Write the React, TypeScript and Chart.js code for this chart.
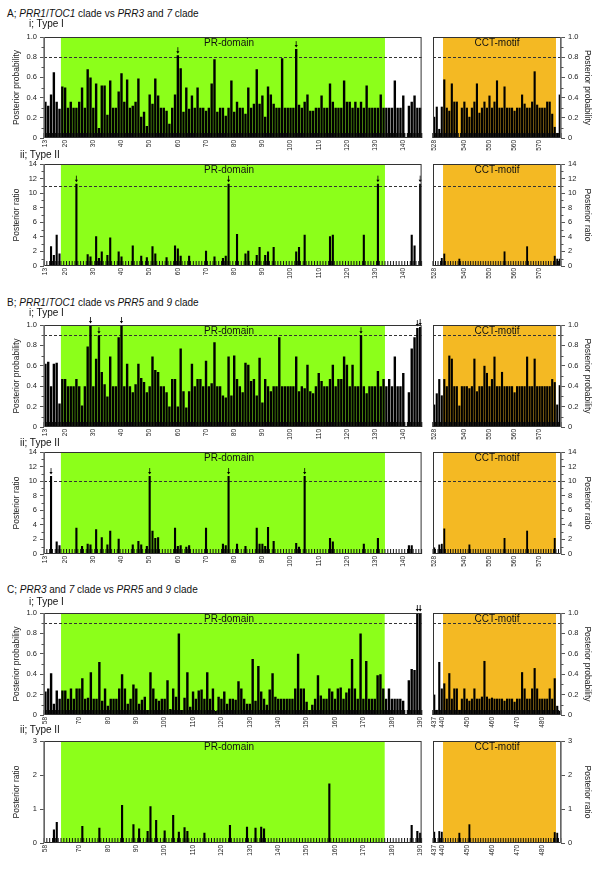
import React, { useEffect, useRef } from 'react';
import { Chart, registerables } from 'chart.js';
Chart.register(...registerables);

const FONT = "'Liberation Sans', Arial, Helvetica, sans-serif";
const GREEN = '#8cff1a';
const ORANGE = '#f4b923';

const range = (a: number, b: number) => { const r: number[] = []; for (let i = a; i <= b; i++) r.push(i); return r; };

// ---------- A: PRR1/TOC1 clade vs PRR3 and 7 clade ----------
const A_RES_PR = range(13, 146);
const A_RES_CCT = range(528, 578);
const A_TICKS_PR = [13, 20, 30, 40, 50, 60, 70, 80, 90, 100, 110, 120, 130, 140];
const A_TICKS_CCT = [528, 540, 550, 560, 570];
const A_PR_DOMAIN: [number, number] = [19, 133];
const A_CCT_MOTIF: [number, number] = [532, 576];
const A_T1_THRESHOLD = 0.8;
const A_T2_THRESHOLD = 11;
const A_TYPE1_PR = [
  0.36,0.32,0.43,0.65,0.36,0.29,0.51,0.50,0.30,0.36,
  0.30,0.30,0.36,0.50,0.30,0.68,0.60,0.30,0.54,0.10,
  0.52,0.52,0.23,0.57,0.30,0.30,0.46,0.64,0.36,0.58,
  0.30,0.32,0.36,0.59,0.21,0.26,0.12,0.43,0.34,0.59,
  0.42,0.30,0.30,0.27,0.14,0.30,0.43,0.82,0.69,0.26,
  0.50,0.29,0.42,0.30,0.50,0.30,0.30,0.27,0.30,0.54,
  0.78,0.26,0.30,0.30,0.22,0.30,0.57,0.26,0.36,0.30,
  0.30,0.24,0.50,0.30,0.34,0.68,0.34,0.42,0.21,0.51,
  0.43,0.34,0.30,0.30,0.79,0.30,0.30,0.30,0.30,0.88,
  0.33,0.30,0.36,0.43,0.27,0.27,0.30,0.30,0.42,0.30,
  0.30,0.54,0.36,0.30,0.30,0.30,0.57,0.36,0.36,0.30,
  0.36,0.30,0.36,0.30,0.52,0.30,0.30,0.30,0.30,0.43,
  0.30,0.30,0.30,0.30,0.57,0.30,0.30,0.42,0.00,0.32,
  0.36,0.42,0.30,0.30];
const A_TYPE1_CCT = [
  0.21,0.31,0.09,0.31,0.58,0.30,0.27,0.54,0.36,0.36,
  0.00,0.30,0.36,0.30,0.21,0.30,0.36,0.54,0.25,0.30,
  0.36,0.30,0.42,0.30,0.36,0.57,0.30,0.30,0.51,0.30,
  0.30,0.30,0.27,0.30,0.30,0.43,0.34,0.30,0.30,0.36,
  0.66,0.33,0.30,0.30,0.30,0.36,0.36,0.24,0.11,0.05,
  0.43];
const A_TYPE2_PR = [
  0,0,2.7,1.5,4.3,1.7,0,0,0,0,
  0,11.3,0,0,0,1.6,1.3,0,4.1,1.1,
  2.0,0,1.5,3.9,0,0,2.0,1.3,0,0,
  0,2.8,0,0,1.4,0,1.2,0,2.7,1.7,
  0,0,0,1.2,0,0,2.8,2.4,1.4,0,
  0,1.4,0,0,0,0,0,2.1,0,0,
  1.3,0,0,1.1,1.4,11.3,0,0,4.4,0,
  0,1.7,2.1,0,0,1.5,2.6,0,1.5,2.0,
  0,2.6,0,0,0,0,0,0,0,2.0,
  2.6,0,4.3,0,0,0,0,0,0,0,
  0,4.1,4.3,0,0,0,0,0,0,0,
  0,0,0,4.3,0,0,0,0,11.3,0,
  0,0,0,0,0,0,0,0,0,0,
  4.3,2.8,0,11.3];
const A_TYPE2_CCT = [
  0,0,0,1.1,1.7,0,0,0,0,0,
  1.0,0,0,0,0,0,0,0,0,0,
  0,0,0,0,0,0,0,0,2.0,0,
  0,0,0,0,0,0,0,2.7,0,0,
  0,0,0,0,0,0,0,0,1.4,1.0,
  1.0];

// ---------- B: PRR1/TOC1 clade vs PRR5 and 9 clade ----------
const B_RES_PR = range(13, 146);
const B_RES_CCT = range(528, 578);
const B_TICKS_PR = [13, 20, 30, 40, 50, 60, 70, 80, 90, 100, 110, 120, 130, 140];
const B_TICKS_CCT = [528, 540, 550, 560, 570];
const B_PR_DOMAIN: [number, number] = [19, 133];
const B_CCT_MOTIF: [number, number] = [532, 576];
const B_T1_THRESHOLD = 0.9;
const B_T2_THRESHOLD = 10;
const B_TYPE1_PR = [
  0.62,0.64,0.40,0.62,0.63,0.23,0.47,0.47,0.40,0.40,
  0.40,0.47,0.40,0.21,0.40,0.79,1.00,0.40,0.67,0.90,
  0.54,0.42,0.30,0.69,0.40,0.40,0.88,1.00,0.40,0.62,
  0.40,0.34,0.42,0.62,0.48,0.44,0.34,0.40,0.69,0.56,
  0.54,0.40,0.40,0.34,0.20,0.47,0.47,0.20,0.77,0.35,
  0.19,0.35,0.62,0.40,0.47,0.47,0.40,0.65,0.40,0.43,
  0.83,0.40,0.40,0.31,0.29,0.69,0.31,0.70,0.47,0.40,
  0.34,0.63,0.61,0.45,0.47,0.31,0.68,0.24,0.47,0.40,
  0.35,0.40,0.40,0.88,0.40,0.40,0.40,0.40,0.40,0.69,
  0.35,0.40,0.38,0.61,0.35,0.33,0.40,0.53,0.45,0.40,
  0.40,0.47,0.61,0.40,0.47,0.47,0.69,0.61,0.40,0.61,
  0.40,0.40,0.90,0.40,0.33,0.40,0.40,0.40,0.55,0.40,
  0.47,0.40,0.47,0.40,0.69,0.40,0.40,0.53,0.00,0.34,
  0.77,0.88,0.97,0.98];
const B_TYPE1_CCT = [
  0.22,0.33,0.47,0.31,0.47,0.40,0.70,0.67,0.40,0.40,
  0.21,0.40,0.40,0.40,0.38,0.40,0.67,0.35,0.40,0.40,
  0.60,0.53,0.40,0.47,0.69,0.40,0.40,0.54,0.40,0.40,
  0.40,0.40,0.34,0.40,0.40,0.40,0.40,0.69,0.40,0.40,
  0.67,0.40,0.40,0.40,0.40,0.40,0.40,0.47,0.44,0.22,
  0.41];
const B_TYPE2_PR = [
  0,0,10.7,0,1.7,1.2,0,0,0,0,
  0,3.6,0,1.1,0,1.4,1.3,0,3.4,0,
  2.3,0,1.3,3.2,0,0,2.1,0,0,0,
  0,1.3,0,1.8,1.3,0,1.1,10.7,3.2,2.2,
  2.3,0,0,0,0,0,3.6,1.1,1.2,0,
  1.0,1.2,0,0,0,0,0,3.6,0,0,
  0,0,0,1.4,1.2,10.7,0,0,1.4,0,
  0,1.1,0,0,0,3.6,1.4,1.4,1.1,3.7,
  0,1.8,0,0,0,0,0,0,0,1.5,
  1.0,0,10.7,0,0,0,0,0,0,0,
  0,2.2,1.7,0,0,0,0,0,0,0,
  0,0,0,1.4,0,0,0,0,2.2,0,
  0,0,0,0,0,0,0,0,0,1.2,
  1.2,0,0,0];
const B_TYPE2_CCT = [
  0.9,0,1.3,1.4,3.5,0,0,0,0,0,
  0,0,0,0,1.3,0,0,0,0,0,
  0,0,0,0,0,0,0,0,2.2,0,
  0,0,0,0,0,0,0,3.2,0,0,
  0,0,0,0,0,0,0,0,2.2,0,
  0];

// ---------- C: PRR3 and 7 clade vs PRR5 and 9 clade ----------
const C_RES_PR = range(58, 190);
const C_RES_CCT = range(437, 487);
const C_TICKS_PR = [58, 70, 80, 90, 100, 110, 120, 130, 140, 150, 160, 170, 180, 190];
const C_TICKS_CCT = [437, 440, 450, 460, 470, 480];
const C_PR_DOMAIN: [number, number] = [64, 177];
const C_CCT_MOTIF: [number, number] = [441, 485];
const C_T1_THRESHOLD = 0.9;
const C_TYPE1_PR = [
  0.23,0.26,0.41,0.11,0.24,0.16,0.24,0.24,0.16,0.26,
  0.16,0.26,0.26,0.36,0.16,0.17,0.42,0.16,0.16,0.52,
  0.14,0.26,0.09,0.16,0.16,0.16,0.26,0.40,0.26,0.11,
  0.16,0.30,0.26,0.11,0.15,0.18,0.05,0.42,0.26,0.16,
  0.14,0.16,0.16,0.34,0.06,0.26,0.18,0.80,0.05,0.17,
  0.42,0.08,0.23,0.16,0.24,0.25,0.16,0.42,0.16,0.26,
  0.04,0.18,0.16,0.23,0.11,0.16,0.16,0.15,0.33,0.26,
  0.16,0.11,0.11,0.55,0.14,0.48,0.23,0.16,0.10,0.25,
  0.41,0.18,0.16,0.16,0.16,0.16,0.16,0.16,0.26,0.60,
  0.26,0.26,0.13,0.05,0.10,0.16,0.39,0.19,0.16,0.16,
  0.26,0.23,0.16,0.26,0.27,0.16,0.22,0.26,0.55,0.26,
  0.16,0.80,0.16,0.53,0.16,0.16,0.16,0.39,0.40,0.26,
  0.16,0.26,0.16,0.16,0.16,0.16,0.14,0.00,0.34,0.45,
  0.44,1.00,1.00];
const C_TYPE1_CCT = [
  0.20,0.05,0.52,0.26,0.31,0.16,0.41,0.16,0.26,0.26,
  0.05,0.16,0.26,0.16,0.14,0.16,0.26,0.16,0.16,0.18,
  0.53,0.18,0.16,0.17,0.16,0.16,0.16,0.16,0.14,0.16,
  0.16,0.16,0.13,0.16,0.16,0.42,0.26,0.16,0.16,0.26,
  0.46,0.26,0.16,0.16,0.16,0.16,0.26,0.16,0.36,0.09,
  0.04];
const C_TYPE2_PR = [
  0,0,0,0.40,0.62,0,0,0,0,0,
  0,0,0,0.50,0,0,0,0,0,0.45,
  0,0,0,0,0,0,0,1.12,0,0,
  0,0.55,0,0.43,0,0,0.35,1.08,0,0.68,
  0,0,0.37,0,0,0.82,0,0.33,0,0.46,
  0.35,0,0,0,0,0,0.30,0,0,0,
  0,0,0,0,0,0.53,0,0,0,0,
  0,0.48,0,0,0.45,0,0.48,0.43,0,0,
  0,0,0,0,0,0,0,0,0,0,
  0,0,0,0,0,0,0,0,0,0,
  1.75,0,0,0,0,0,0,0,0,0,
  0,0,0,0,0,0,0,0,0,0,
  0,0,0,0,0,0,0,0,0,0.53,
  0,0.35,0.30];
const C_TYPE2_CCT = [
  0.33,0,0.35,0.33,0,0,0,0,0,0,
  0.30,0,0,0,0.55,0,0,0,0,0,
  0,0,0,0,0,0,0,0,0,0,
  0,0,0,0,0,0,0,0,0,0,
  0,0,0,0,0,0,0,0,0.32,0.30,
  0];

type Spec = {
  residues: number[]; values: number[]; ticks: number[];
  region: [number, number]; regionColor: string; regionLabel: string; labelFrac: number;
  threshold: number | null; yMax: number; yStep: number; yMinor: number | null;
  kind: 'I' | 'II'; side: 'left' | 'right'; yTitle: string; plotTop: number; plotH: number;
};

function makeDecor(spec: Spec) {
  return {
    id: 'decor',
    beforeDatasetsDraw(chart: any) {
      const { ctx, chartArea: ca, scales } = chart;
      const x = scales.x, y = scales.y;
      const slot = x.getPixelForValue(1) - x.getPixelForValue(0);
      const i0 = spec.residues.indexOf(spec.region[0]);
      const i1 = spec.residues.indexOf(spec.region[1]);
      const rx0 = x.getPixelForValue(i0) - slot / 2;
      const rx1 = x.getPixelForValue(i1) + slot / 2;
      ctx.save();
      ctx.fillStyle = spec.regionColor;
      ctx.fillRect(rx0, ca.top, rx1 - rx0, ca.bottom - ca.top);
      ctx.fillStyle = '#111';
      ctx.font = `10px ${FONT}`;
      ctx.textAlign = 'center';
      ctx.textBaseline = 'middle';
      ctx.fillText(spec.regionLabel, ca.left + spec.labelFrac * (ca.right - ca.left), ca.top + 6.5);
      if (spec.threshold != null) {
        const ty = Math.round(y.getPixelForValue(spec.threshold)) + 0.5;
        ctx.strokeStyle = '#333';
        ctx.lineWidth = 1;
        ctx.setLineDash([3, 2]);
        ctx.beginPath(); ctx.moveTo(ca.left, ty); ctx.lineTo(ca.right, ty); ctx.stroke();
      }
      ctx.restore();
    },
    afterDatasetsDraw(chart: any) {
      const { ctx, chartArea: ca, scales } = chart;
      const x = scales.x, y = scales.y;
      const slot = x.getPixelForValue(1) - x.getPixelForValue(0);
      ctx.save();
      // comb of position marks at the base
      ctx.strokeStyle = '#111';
      ctx.lineWidth = spec.kind === 'I' ? 1.4 : 1;
      ctx.beginPath();
      for (let i = 0; i <= spec.residues.length; i++) {
        const px = x.getPixelForValue(0) - slot / 2 + i * slot;
        ctx.moveTo(px, ca.bottom); ctx.lineTo(px, ca.bottom - 5);
      }
      ctx.stroke();
      // arrows over sites above threshold
      if (spec.threshold != null) {
        ctx.fillStyle = '#000'; ctx.strokeStyle = '#000'; ctx.lineWidth = 0.8;
        spec.values.forEach((v, i) => {
          if (v >= spec.threshold!) {
            const cx = x.getPixelForValue(i);
            const top = y.getPixelForValue(v);
            ctx.beginPath(); ctx.moveTo(cx, top - 8); ctx.lineTo(cx, top - 3); ctx.stroke();
            ctx.beginPath(); ctx.moveTo(cx - 1.6, top - 4); ctx.lineTo(cx + 1.6, top - 4); ctx.lineTo(cx, top - 1.5); ctx.closePath(); ctx.fill();
          }
        });
      }
      // frame
      ctx.strokeStyle = '#333';
      ctx.lineWidth = 1;
      ctx.strokeRect(ca.left + 0.5, ca.top + 0.5, ca.right - ca.left - 1, ca.bottom - ca.top - 1);
      ctx.strokeStyle = '#777';
      ctx.lineWidth = 1.5;
      const ax = spec.side === 'left' ? ca.left : ca.right;
      ctx.beginPath(); ctx.moveTo(ax, ca.top); ctx.lineTo(ax, ca.bottom); ctx.stroke();
      // minor ticks
      if (spec.yMinor) {
        ctx.strokeStyle = '#555'; ctx.lineWidth = 1;
        ctx.beginPath();
        const n = Math.round(spec.yMax / spec.yMinor);
        for (let k = 0; k <= n; k++) {
          const v = k * spec.yMinor;
          const r = v / spec.yStep;
          if (Math.abs(r - Math.round(r)) < 1e-6) continue;
          const py = Math.round(y.getPixelForValue(v)) + 0.5;
          if (spec.side === 'left') { ctx.moveTo(ca.left - 2.5, py); ctx.lineTo(ca.left, py); }
          else { ctx.moveTo(ca.right, py); ctx.lineTo(ca.right + 2.5, py); }
        }
        ctx.stroke();
      }
      ctx.restore();
    },
  };
}

function buildConfig(spec: Spec): any {
  const isLeft = spec.side === 'left';
  return {
    type: 'bar',
    data: {
      labels: spec.residues.map(String),
      datasets: [{
        data: spec.values,
        backgroundColor: '#000',
        borderWidth: 0,
        barPercentage: spec.kind === 'I' ? 0.85 : 0.75,
        categoryPercentage: 1,
      }],
    },
    options: {
      responsive: false,
      animation: false,
      events: [],
      layout: { padding: { top: 10, bottom: 0, left: isLeft ? 0 : 3, right: isLeft ? 3 : 0 } },
      plugins: { legend: { display: false }, tooltip: { enabled: false } },
      scales: {
        x: {
          type: 'category',
          grid: { display: false, drawTicks: false, tickLength: 0 },
          border: { display: false },
          ticks: {
            autoSkip: false, maxRotation: 90, minRotation: 90, padding: 2,
            font: { size: 6.5, family: FONT }, color: '#222',
            callback: (_v: any, i: number) => {
              const r = spec.residues[i];
              return spec.ticks.includes(r) ? String(r) : '';
            },
          },
          afterFit: (s: any) => { s.height = 18; },
        },
        y: {
          position: isLeft ? 'left' : 'right',
          min: 0, max: spec.yMax,
          ticks: { stepSize: spec.yStep, font: { size: 7.5, family: FONT }, color: '#222', padding: 3 },
          grid: { display: true, drawOnChartArea: false, drawTicks: true, tickLength: 4, color: '#555' },
          border: { display: false },
          title: {
            display: true, text: spec.yTitle, color: '#222',
            font: { size: 8.5, family: FONT },
            padding: { top: isLeft ? 12 : 8, bottom: 0 },
          },
          afterFit: (s: any) => { s.width = isLeft ? 44 : 39; },
        },
      },
    },
    plugins: [makeDecor(spec)],
  };
}

function Panel({ spec }: { spec: Spec }) {
  const ref = useRef<HTMLCanvasElement>(null);
  const isLeft = spec.side === 'left';
  const w = isLeft ? 430 : 170;
  const h = spec.plotH + 28;
  useEffect(() => {
    const chart = new Chart(ref.current as HTMLCanvasElement, buildConfig(spec));
    return () => chart.destroy();
  }, []);
  return (
    <canvas ref={ref} width={w} height={h}
      style={{ position: 'absolute', left: isLeft ? 0 : 430, top: spec.plotTop - 10, width: w, height: h }} />
  );
}

function pair(base: any, pr: { res: number[]; vals: number[]; ticks: number[]; region: [number, number] },
  cct: { res: number[]; vals: number[]; ticks: number[]; region: [number, number] }): Spec[] {
  return [
    { ...base, residues: pr.res, values: pr.vals, ticks: pr.ticks, region: pr.region, regionColor: GREEN, regionLabel: 'PR-domain', labelFrac: 0.49, side: 'left' },
    { ...base, residues: cct.res, values: cct.vals, ticks: cct.ticks, region: cct.region, regionColor: ORANGE, regionLabel: 'CCT-motif', labelFrac: 0.5, side: 'right' },
  ];
}

const PP = 'Posterior probability';
const PR = 'Posterior ratio';

const SPECS: Spec[] = [
  ...pair({ kind: 'I', threshold: A_T1_THRESHOLD, yMax: 1, yStep: 0.2, yMinor: 0.1, yTitle: PP, plotTop: 37, plotH: 101 },
    { res: A_RES_PR, vals: A_TYPE1_PR, ticks: A_TICKS_PR, region: A_PR_DOMAIN },
    { res: A_RES_CCT, vals: A_TYPE1_CCT, ticks: A_TICKS_CCT, region: A_CCT_MOTIF }),
  ...pair({ kind: 'II', threshold: A_T2_THRESHOLD, yMax: 14, yStep: 2, yMinor: 1, yTitle: PR, plotTop: 164, plotH: 102 },
    { res: A_RES_PR, vals: A_TYPE2_PR, ticks: A_TICKS_PR, region: A_PR_DOMAIN },
    { res: A_RES_CCT, vals: A_TYPE2_CCT, ticks: A_TICKS_CCT, region: A_CCT_MOTIF }),
  ...pair({ kind: 'I', threshold: B_T1_THRESHOLD, yMax: 1, yStep: 0.2, yMinor: 0.1, yTitle: PP, plotTop: 325, plotH: 102 },
    { res: B_RES_PR, vals: B_TYPE1_PR, ticks: B_TICKS_PR, region: B_PR_DOMAIN },
    { res: B_RES_CCT, vals: B_TYPE1_CCT, ticks: B_TICKS_CCT, region: B_CCT_MOTIF }),
  ...pair({ kind: 'II', threshold: B_T2_THRESHOLD, yMax: 14, yStep: 2, yMinor: 1, yTitle: PR, plotTop: 452, plotH: 102 },
    { res: B_RES_PR, vals: B_TYPE2_PR, ticks: B_TICKS_PR, region: B_PR_DOMAIN },
    { res: B_RES_CCT, vals: B_TYPE2_CCT, ticks: B_TICKS_CCT, region: B_CCT_MOTIF }),
  ...pair({ kind: 'I', threshold: C_T1_THRESHOLD, yMax: 1, yStep: 0.2, yMinor: 0.1, yTitle: PP, plotTop: 613, plotH: 102 },
    { res: C_RES_PR, vals: C_TYPE1_PR, ticks: C_TICKS_PR, region: C_PR_DOMAIN },
    { res: C_RES_CCT, vals: C_TYPE1_CCT, ticks: C_TICKS_CCT, region: C_CCT_MOTIF }),
  ...pair({ kind: 'II', threshold: null, yMax: 3, yStep: 1, yMinor: null, yTitle: PR, plotTop: 741, plotH: 102 },
    { res: C_RES_PR, vals: C_TYPE2_PR, ticks: C_TICKS_PR, region: C_PR_DOMAIN },
    { res: C_RES_CCT, vals: C_TYPE2_CCT, ticks: C_TICKS_CCT, region: C_CCT_MOTIF }),
];

const txt = (left: number, top: number, children: React.ReactNode) => (
  <div style={{ position: 'absolute', left, top, fontSize: 10, lineHeight: '12px', color: '#111', whiteSpace: 'nowrap' }}>{children}</div>
);

export default function App() {
  return (
    <div style={{ position: 'absolute', left: 0, top: 0, width: 600, height: 874, background: '#fff', fontFamily: FONT, overflow: 'hidden' }}>
      {SPECS.map((s, i) => <Panel key={i} spec={s} />)}
      {txt(7, 8, <>A; <i>PRR1</i>/<i>TOC1</i> clade vs <i>PRR3</i> and <i>7</i> clade</>)}
      {txt(29, 18, <>i; Type I</>)}
      {txt(20, 149, <>ii; Type II</>)}
      {txt(7, 297, <>B; <i>PRR1</i>/<i>TOC1</i> clade vs <i>PRR5</i> and <i>9</i> clade</>)}
      {txt(29, 307, <>i; Type I</>)}
      {txt(20, 437, <>ii; Type II</>)}
      {txt(7, 584, <>C; <i>PRR3</i> and <i>7</i> clade vs <i>PRR5</i> and <i>9</i> clade</>)}
      {txt(29, 596, <>i; Type I</>)}
      {txt(20, 724, <>ii; Type II</>)}
    </div>
  );
}
